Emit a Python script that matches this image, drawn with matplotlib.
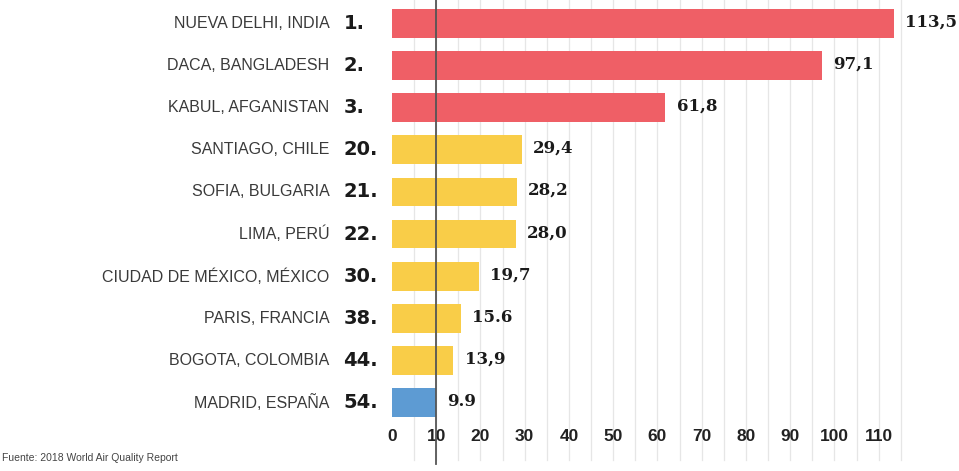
import numpy as np
import matplotlib
matplotlib.use("Agg")
import matplotlib.pyplot as plt

# data
cities = ["NUEVA DELHI, INDIA", "DACA, BANGLADESH", "KABUL, AFGANISTAN",
          "SANTIAGO, CHILE", "SOFIA, BULGARIA", "LIMA, PERÚ",
          "CIUDAD DE MÉXICO, MÉXICO", "PARIS, FRANCIA", "BOGOTA, COLOMBIA",
          "MADRID, ESPAÑA"]
ranks = ["1.", "2.", "3.", "20.", "21.", "22.", "30.", "38.", "44.", "54."]
values = [113.5, 97.1, 61.8, 29.4, 28.2, 28.0, 19.7, 15.6, 13.9, 9.9]
value_labels = ["113,5", "97,1", "61,8", "29,4", "28,2", "28,0",
                "19,7", "15.6", "13,9", "9.9"]
ticks = [0, 10, 20, 30, 40, 50, 60, 70, 80, 90, 100, 110]
source = "Fuente: 2018 World Air Quality Report"

RED = "#ef5f66"
YELLOW = "#f9cd48"
BLUE = "#5d9bd3"
bar_colors = [RED] * 3 + [YELLOW] * 6 + [BLUE]

fig = plt.figure(figsize=(9.59, 4.71), dpi=100)
ax = fig.add_axes([0.4087, 0.0955, 0.944 - 0.4087, 0.9045])

y = np.arange(len(cities))
ax.barh(y, values, height=0.68, color=bar_colors, zorder=2)

ax.set_xlim(0, 116)
ax.set_ylim(len(cities) - 0.45, -0.55)

# light grid every 5 units, running down past the tick labels
for gx in np.arange(5, 116, 5):
    ax.axvline(gx, ymin=-0.08, ymax=1, color="#e6e6e6", lw=0.9,
               zorder=0, clip_on=False)

# dark reference line at 10
ax.axvline(10, ymin=-0.09, ymax=1, color="#555555", lw=1.3,
           zorder=3, clip_on=False)

for s in ax.spines.values():
    s.set_visible(False)
ax.set_yticks([])
ax.set_xticks(ticks)
ax.set_xticklabels([str(t) for t in ticks], family="Liberation Sans",
                   fontweight="bold", fontsize=12.5, color="#222222")
ax.tick_params(axis="x", length=0, pad=2)

# city names and ranks on the left
for i, (c, r) in enumerate(zip(cities, ranks)):
    ax.annotate(c, xy=(0, i), xycoords=("axes fraction", "data"),
                xytext=(-45, 0), textcoords="offset points",
                ha="right", va="center", fontsize=11.5,
                family="Liberation Sans", color="#3a3a3a")
    ax.annotate(r, xy=(0, i), xycoords=("axes fraction", "data"),
                xytext=(-35, 0), textcoords="offset points",
                ha="left", va="center", fontsize=14, fontweight="bold",
                family="DejaVu Sans", color="#1a1a1a")

# value labels right of each bar
for i, (v, lab) in enumerate(zip(values, value_labels)):
    ax.annotate(lab, xy=(v, i), xytext=(8, 1), textcoords="offset points",
                ha="left", va="center", fontsize=12, fontweight="bold",
                family="DejaVu Serif", color="#1a1a1a")

fig.text(0.002, 0.018, source, fontsize=7.5, color="#444444",
         family="Liberation Sans", ha="left", va="bottom")

fig.savefig("out.png", dpi=100)
